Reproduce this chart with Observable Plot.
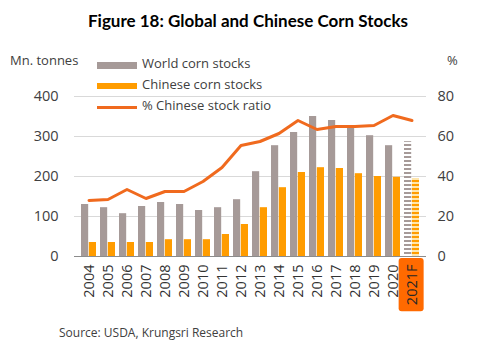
<!DOCTYPE html>
<html><head><meta charset="utf-8">
<script src="https://cdn.jsdelivr.net/npm/d3@7"></script>
<script src="https://cdn.jsdelivr.net/npm/@observablehq/plot@0.6"></script>
<style>
body{margin:0;background:#fff;}
#wrap{position:relative;width:484px;height:350px;font-family:"Open Sans",sans-serif;color:#262626;overflow:hidden;}
#wrap svg{position:absolute;left:0;top:0;}
.abs{position:absolute;white-space:nowrap;line-height:1;}
.sw{position:absolute;}
</style></head><body>
<div id="wrap"></div>
<script>
const years = ["2004","2005","2006","2007","2008","2009","2010","2011","2012","2013","2014","2015","2016","2017","2018","2019","2020","2021F"];
const worldStocks = [130,122,107,125,135,130,115,122,142,212,277,310,350,340,320,302,277,287];
const chinaStocks = [35,35,35,35,42,42,42,55,80,122,172,210,222,220,207,200,198,195];
const chinaRatio = [28,28.5,33.5,29,32.5,32.5,37.5,44.5,55.5,57.5,61.5,68,63.5,65,65,65.5,70.5,68];
const leftTicks = [0,100,200,300,400];
const rightTicks = [0,20,40,60,80];
const forecastYear = "2021F";
const seriesNames = ["World corn stocks","Chinese corn stocks","% Chinese stock ratio"];

const cWorld = "#a69a98", cChina = "#ff9c00", cLine = "#f06a1e";
const W = 484, H = 350, mT = 96, mB = 94, mL = 74, mR = 58;
const padIn = 0.2, padOut = 0.1;
const step = (W - mL - mR) / (years.length - padIn + 2 * padOut);
const half = step * (1 - padIn) / 2;
const k = leftTicks[leftTicks.length-1] / rightTicks[rightTicks.length-1];

const data = years.map((y,i)=>({year:y, world:worldStocks[i], china:chinaStocks[i], ratio:chinaRatio[i]}));
const isF = d => d.year === forecastYear;

const plot = Plot.plot({
  width: W, height: H, marginTop: mT, marginBottom: mB, marginLeft: mL, marginRight: mR,
  style: {fontFamily: "Open Sans", fontSize: "14.5px", color: "#404040", background: "transparent", overflow: "visible"},
  x: {domain: years, paddingInner: padIn, paddingOuter: padOut, label: null},
  y: {domain: [0, 400], label: null},
  marks: [
    Plot.gridY(leftTicks.slice(1), {stroke: "#d9d9d9", strokeOpacity: 1}),
    Plot.barY(data, {filter: d => !isF(d), x: "year", y: "world", fill: cWorld, insetRight: half}),
    Plot.barY(data, {filter: d => !isF(d), x: "year", y: "china", fill: cChina, insetLeft: half}),
    Plot.barY(data, {filter: isF, x: "year", y: "world", fill: "url(#hw)", insetRight: half}),
    Plot.barY(data, {filter: isF, x: "year", y: "china", fill: "url(#hc)", insetLeft: half}),
    Plot.ruleY([0], {stroke: "#8c8c8c"}),
    Plot.line(data, {x: "year", y: d => d.ratio * k, stroke: cLine, strokeWidth: 3, strokeLinejoin: "round"}),
    Plot.axisY(leftTicks, {anchor: "left", tickSize: 0, tickPadding: 16, label: null}),
    Plot.axisY(rightTicks.map(d => d * k), {anchor: "right", tickSize: 0, tickPadding: 11, label: null, tickFormat: d => d / k}),
    Plot.axisX({tickRotate: -90, tickSize: 0, tickPadding: 8, fontSize: 14.5, fill: "#333", label: null})
  ]
});

const wrap = document.getElementById("wrap");
wrap.appendChild(plot);

// hatch patterns for the forecast bars
const ns = "http://www.w3.org/2000/svg";
const defs = document.createElementNS(ns, "defs");
function pat(id, bg, fg){
  const p = document.createElementNS(ns, "pattern");
  p.setAttribute("id", id); p.setAttribute("patternUnits", "userSpaceOnUse");
  p.setAttribute("width", 4); p.setAttribute("height", 4);
  const r1 = document.createElementNS(ns, "rect");
  r1.setAttribute("width", 4); r1.setAttribute("height", 4); r1.setAttribute("fill", bg);
  const r2 = document.createElementNS(ns, "rect");
  r2.setAttribute("width", 4); r2.setAttribute("height", 2); r2.setAttribute("fill", fg);
  p.appendChild(r1); p.appendChild(r2); defs.appendChild(p);
}
pat("hw", "#ffffff", cWorld);
pat("hc", "#ffe6ad", cChina);
plot.insertBefore(defs, plot.firstChild);

// highlight box behind the forecast tick label
const svgRect = plot.getBoundingClientRect();
plot.querySelectorAll("text").forEach(t => {
  if (t.textContent === forecastYear) {
    const b = t.getBoundingClientRect();
    const r = document.createElementNS(ns, "rect");
    r.setAttribute("x", b.left - svgRect.left - 3);
    r.setAttribute("y", b.top - svgRect.top - 6);
    r.setAttribute("width", b.width + 6);
    r.setAttribute("height", b.height + 12);
    r.setAttribute("rx", 3);
    r.setAttribute("fill", "#ff6a00");
    plot.insertBefore(r, defs.nextSibling);
    t.setAttribute("fill", "#262626");
  }
});

function addText(txt, css){
  const d = document.createElement("div"); d.className = "abs"; d.textContent = txt;
  Object.assign(d.style, css); wrap.appendChild(d); return d;
}
addText("Figure 18: Global and Chinese Corn Stocks", {left: "0", width: "496px", textAlign: "center", top: "12px", fontFamily: "Lato", fontWeight: "bold", fontSize: "17px", color: "#000"});
addText("Mn. tonnes", {left: "10px", top: "54px", fontSize: "13px", color: "#404040"});
addText("%", {left: "447px", top: "54px", fontSize: "13px", color: "#404040"});
addText("Source: USDA, Krungsri Research", {left: "59px", top: "327px", fontSize: "12px", color: "#404040"});

// legend
const legendY = [65, 86, 107];
const sw1 = document.createElement("div"); sw1.className = "sw";
Object.assign(sw1.style, {left: "97px", top: "62px", width: "40px", height: "7px", background: cWorld}); wrap.appendChild(sw1);
const sw2 = document.createElement("div"); sw2.className = "sw";
Object.assign(sw2.style, {left: "97px", top: "83px", width: "40px", height: "6px", background: cChina}); wrap.appendChild(sw2);
const sw3 = document.createElement("div"); sw3.className = "sw";
Object.assign(sw3.style, {left: "97px", top: "106px", width: "40px", height: "3px", background: cLine}); wrap.appendChild(sw3);
seriesNames.forEach((n,i) => addText(n, {left: "142px", top: (legendY[i] - 8) + "px", fontSize: "13px", color: "#404040"}));
</script>
</body></html>
